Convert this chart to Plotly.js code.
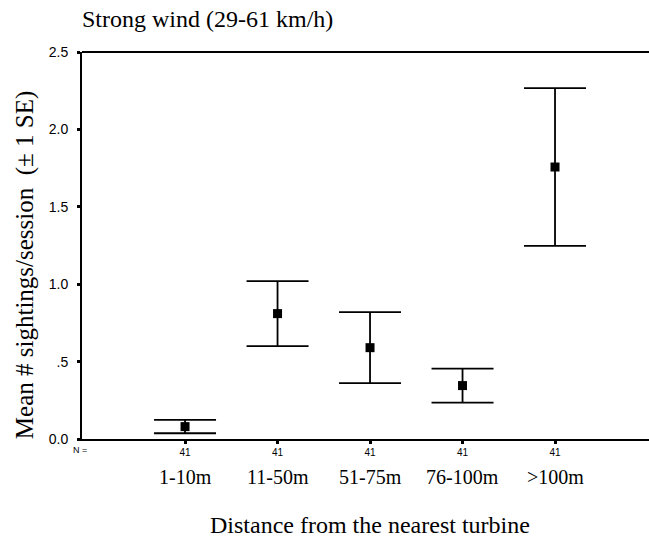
<!DOCTYPE html>
<html>
<head>
<meta charset="utf-8">
<script src="https://cdn.plot.ly/plotly-3.0.1.min.js"></script>
<style>html,body{margin:0;padding:0;background:#fff;}#chart{width:649px;height:541px;}</style>
</head>
<body>
<div id="chart"></div>
<script>
const categories = ['1-10m', '11-50m', '51-75m', '76-100m', '>100m'];
const meanSightings = [0.08, 0.81, 0.59, 0.345, 1.757];
const standardError = [0.043, 0.21, 0.229, 0.11, 0.509];
const sampleSizes = [41, 41, 41, 41, 41];
const yTickValues = [0, 0.5, 1.0, 1.5, 2.0, 2.5];
const yTickLabels = ['0.0', '.5', '1.0', '1.5', '2.0', '2.5'];

const positions = categories.map((c, i) => i);
const serif = 'Liberation Serif, Times New Roman, serif';
const sans = 'Liberation Sans, Arial, sans-serif';

const trace = {
  x: positions,
  y: meanSightings,
  type: 'scatter',
  mode: 'markers',
  marker: {symbol: 'square', size: 9, color: '#000'},
  error_y: {type: 'data', array: standardError, visible: true, color: '#000', thickness: 1.8, width: 31},
  showlegend: false,
  hoverinfo: 'skip'
};

const annotations = categories.map((c, i) => ({
  x: i, xref: 'x', y: -0.098, yref: 'paper',
  text: c, showarrow: false, xanchor: 'center', yanchor: 'middle',
  font: {family: serif, size: 20, color: '#000'}
}));
annotations.push({
  x: -2/567, xref: 'paper', y: -0.029, yref: 'paper',
  text: 'N =', showarrow: false, xanchor: 'center', yanchor: 'middle',
  font: {family: sans, size: 9, color: '#000'}
});
annotations.push({
  x: 2, xref: 'x', y: -0.222, yref: 'paper',
  text: 'Distance from the nearest turbine', showarrow: false, xanchor: 'center', yanchor: 'middle',
  font: {family: serif, size: 24, color: '#000'}
});
annotations.push({
  x: -0.1, xref: 'paper', y: 0.45, yref: 'paper',
  text: 'Mean # sightings/session&nbsp;&nbsp;(± 1 SE)', showarrow: false, textangle: -90,
  xanchor: 'center', yanchor: 'middle',
  font: {family: serif, size: 25, color: '#000'}
});

const layout = {
  width: 649, height: 541,
  margin: {l: 82, r: 0, t: 52, b: 102, pad: 0},
  paper_bgcolor: '#fff', plot_bgcolor: '#fff',
  title: {
    text: 'Strong wind (29-61 km/h)',
    font: {family: serif, size: 24, color: '#000'},
    x: 0, xref: 'paper', xanchor: 'left',
    y: 1 - 19/541, yref: 'container', yanchor: 'middle'
  },
  xaxis: {
    range: [-1.114, 5.016],
    tickvals: positions,
    ticktext: sampleSizes.map(String),
    tickfont: {family: sans, size: 10, color: '#000'},
    ticks: 'outside', ticklen: 3, tickwidth: 3, tickcolor: '#000',
    showline: true, linecolor: '#000', linewidth: 2,
    showgrid: false, zeroline: false, fixedrange: true
  },
  yaxis: {
    range: [0, 2.5],
    tickvals: yTickValues,
    ticktext: yTickLabels,
    tickfont: {family: sans, size: 14, color: '#000'},
    ticks: 'outside', ticklen: 3, tickwidth: 3, tickcolor: '#000',
    ticklabelstandoff: 6,
    showline: true, linecolor: '#000', linewidth: 2,
    showgrid: false, zeroline: false, fixedrange: true
  },
  shapes: [{
    type: 'line', xref: 'paper', yref: 'paper', x0: 0, x1: 1, y0: 1, y1: 1,
    line: {color: '#000', width: 2}
  }],
  annotations: annotations
};

Plotly.newPlot('chart', [trace], layout, {displayModeBar: false, staticPlot: true});
</script>
</body>
</html>
